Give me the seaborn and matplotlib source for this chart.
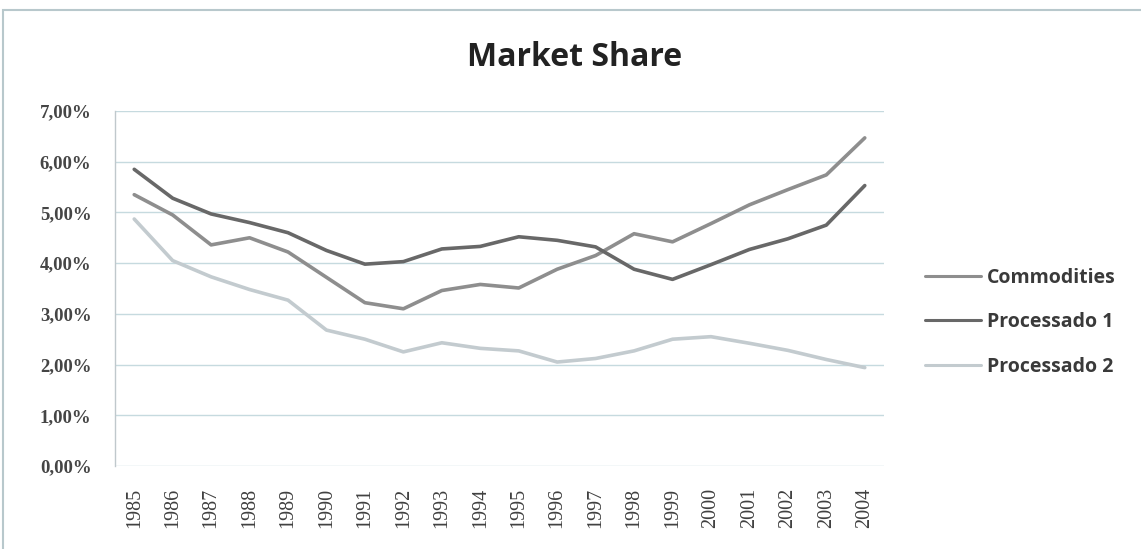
import matplotlib
matplotlib.use("Agg")
import matplotlib.pyplot as plt
import seaborn as sns
import pandas as pd
from matplotlib.patches import Rectangle
from matplotlib.lines import Line2D
from matplotlib.ticker import FuncFormatter

years = list(range(1985, 2005))
commodities = [5.35, 4.95, 4.36, 4.50, 4.22, 3.72, 3.22, 3.10, 3.46, 3.58,
               3.51, 3.88, 4.15, 4.58, 4.42, 4.78, 5.15, 5.45, 5.74, 6.47]
processado1 = [5.85, 5.28, 4.97, 4.80, 4.60, 4.25, 3.98, 4.03, 4.28, 4.33,
               4.52, 4.45, 4.32, 3.88, 3.68, 3.97, 4.27, 4.48, 4.75, 5.53]
processado2 = [4.87, 4.05, 3.73, 3.48, 3.27, 2.68, 2.50, 2.25, 2.43, 2.32,
               2.27, 2.05, 2.12, 2.27, 2.50, 2.55, 2.42, 2.28, 2.10, 1.94]
series_names = ["Commodities", "Processado 1", "Processado 2"]
y_ticks = [0, 1, 2, 3, 4, 5, 6, 7]
title = "Market Share"

df = pd.DataFrame({
    "Ano": years * 3,
    "Valor": commodities + processado1 + processado2,
    "Serie": [series_names[0]] * 20 + [series_names[1]] * 20 + [series_names[2]] * 20,
})

sns.set_theme(style="white")
fig = plt.figure(figsize=(11.41, 5.49), dpi=100)
ax = fig.add_axes([115 / 1141, 1 - 466 / 549, (884 - 115) / 1141, (466 - 111) / 549])

palette = {"Commodities": "#8e8e8e", "Processado 1": "#686868", "Processado 2": "#c3cbcf"}
sns.lineplot(data=df, x="Ano", y="Valor", hue="Serie", palette=palette,
             linewidth=2.6, ax=ax, legend=False, sort=False)

ax.set_xlim(1984.5, 2004.5)
ax.set_ylim(0, 7)
ax.set_yticks(y_ticks)
ax.yaxis.set_major_formatter(FuncFormatter(lambda v, p: f"{v:.2f}%".replace(".", ",")))
ax.set_xticks(years)
ax.set_xticklabels([str(y) for y in years], rotation=90,
                   fontfamily="Liberation Serif", fontsize=14.5, color="#404040")
for lab in ax.get_yticklabels():
    lab.set_fontfamily("Liberation Serif")
    lab.set_fontsize(13.5)
    lab.set_fontweight("bold")
    lab.set_color("#454545")
ax.tick_params(axis="both", length=0)
ax.tick_params(axis="y", pad=17)
ax.tick_params(axis="x", pad=16)
ax.set_xlabel("")
ax.set_ylabel("")

ax.grid(axis="y", color="#c6dadf", linewidth=1.0)
ax.grid(axis="x", visible=False)
for s in ["top", "right", "bottom"]:
    ax.spines[s].set_visible(False)
ax.spines["left"].set_color("#c0c8cc")
ax.spines["left"].set_linewidth(1.0)

# legend
handles = [Line2D([], [], color=palette[n], linewidth=2.2) for n in series_names]
leg = ax.legend(handles, series_names, loc="center left", bbox_to_anchor=(1.03, 0.405),
                frameon=False, handlelength=2.9, handletextpad=0.3, labelspacing=1.25,
                prop={"family": "Open Sans", "weight": "bold", "size": 14})
for t in leg.get_texts():
    t.set_color("#3a3a3a")

fig.text(575 / 1141, 1 - 57 / 549, title, ha="center", va="center",
         fontfamily="Open Sans", fontweight="bold", fontsize=23, color="#222222")

# outer chart frame
fig.patches.append(Rectangle((3 / 1141, -0.05), 1.2, 1 - 10 / 549 + 0.05,
                             transform=fig.transFigure, fill=False,
                             edgecolor="#b8c8cc", linewidth=1.5))

fig.savefig("out.png", dpi=100, facecolor="white")
